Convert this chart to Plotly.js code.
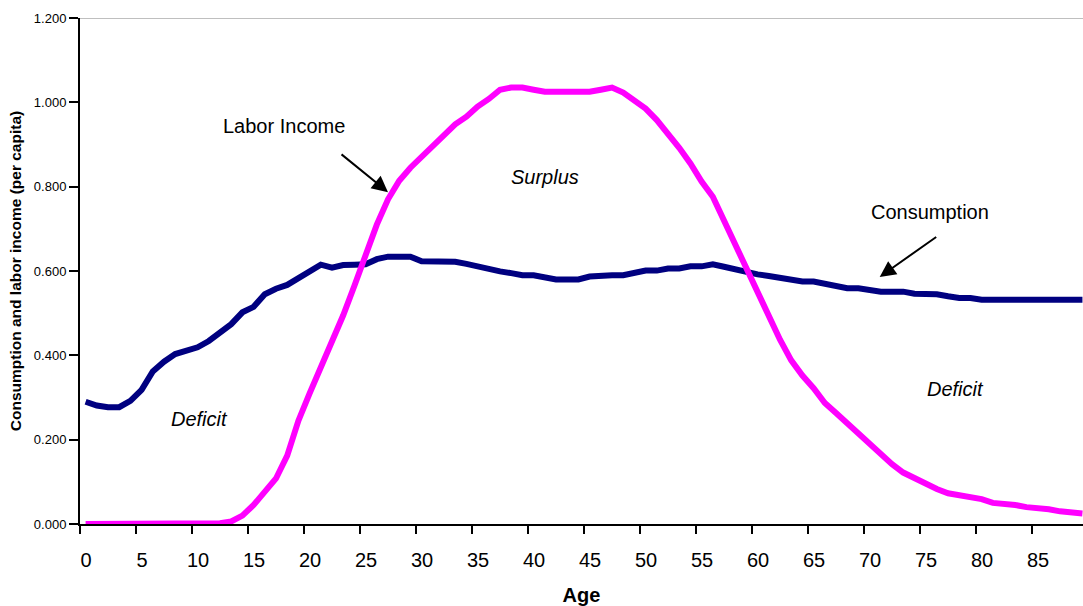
<!DOCTYPE html>
<html>
<head>
<meta charset="utf-8">
<script src="https://cdn.plot.ly/plotly-3.0.1.min.js"></script>
<style>html,body{margin:0;padding:0;background:#fff;}#chart{width:1083px;height:606px;}</style>
</head>
<body>
<div id="chart"></div>
<script>
const ages = Array.from({length: 90}, (_, i) => i);
const consumption = [
  0.290, 0.281, 0.277, 0.277, 0.292, 0.318, 0.362, 0.385, 0.403, 0.411,
  0.419, 0.434, 0.452, 0.474, 0.502, 0.515, 0.545, 0.558, 0.567, 0.583,
  0.600, 0.615, 0.608, 0.614, 0.615, 0.616, 0.628, 0.634, 0.634, 0.634,
  0.623, 0.623, 0.623, 0.622, 0.617, 0.611, 0.603, 0.599, 0.595, 0.590,
  0.590, 0.585, 0.580, 0.580, 0.580, 0.587, 0.590, 0.590, 0.590, 0.596,
  0.601, 0.601, 0.606, 0.606, 0.611, 0.611, 0.616, 0.610, 0.603, 0.597,
  0.592, 0.588, 0.584, 0.579, 0.575, 0.575, 0.570, 0.563, 0.559, 0.559,
  0.555, 0.551, 0.551, 0.551, 0.546, 0.545, 0.545, 0.540, 0.536, 0.536,
  0.532, 0.532, 0.532, 0.532, 0.532, 0.532, 0.532, 0.532, 0.532, 0.532
];
const laborIncome = [
  0.000, 0.000, 0.000, 0.000, 0.000, 0.000, 0.000, 0.000, 0.000, 0.000,
  0.000, 0.000, 0.002, 0.006, 0.020, 0.045, 0.076, 0.108, 0.162, 0.245,
  0.310, 0.370, 0.430, 0.495, 0.565, 0.640, 0.710, 0.770, 0.814, 0.845,
  0.872, 0.894, 0.925, 0.948, 0.966, 0.990, 1.008, 1.030, 1.035, 1.035,
  1.030, 1.025, 1.025, 1.025, 1.025, 1.025, 1.030, 1.035, 1.023, 1.005,
  0.985, 0.958, 0.927, 0.892, 0.855, 0.812, 0.776, 0.720, 0.660, 0.605,
  0.545, 0.490, 0.437, 0.388, 0.352, 0.322, 0.287, 0.263, 0.238, 0.215,
  0.190, 0.163, 0.142, 0.122, 0.108, 0.093, 0.083, 0.073, 0.068, 0.063,
  0.059, 0.050, 0.049, 0.045, 0.040, 0.039, 0.035, 0.030, 0.029, 0.025
];
const xTickLabels = ["0","5","10","15","20","25","30","35","40","45","50","55","60","65","70","75","80","85"];
const xTickVals = xTickLabels.map(s => Number(s) - 0.5);
const yTickVals = [0, 0.2, 0.4, 0.6, 0.8, 1.0, 1.2];

const FONT = "Liberation Sans, Arial, sans-serif";

const traces = [
  {x: ages, y: consumption, type: 'scatter', mode: 'lines', name: 'Consumption',
   line: {color: '#000080', width: 6}},
  {x: ages, y: laborIncome, type: 'scatter', mode: 'lines', name: 'Labor Income',
   line: {color: '#FF00FF', width: 6}}
];

const layout = {
  width: 1083, height: 606,
  margin: {l: 80, r: 0, t: 18, b: 82, pad: 0},
  paper_bgcolor: '#fff', plot_bgcolor: '#fff',
  showlegend: false,
  font: {family: FONT, color: '#000'},
  xaxis: {
    range: [-0.5, 89.05], showgrid: false, zeroline: false,
    showline: true, linecolor: '#000', linewidth: 2,
    ticks: 'outside', ticklen: 8, tickwidth: 2, tickcolor: '#000',
    tickmode: 'array', tickvals: xTickVals, ticktext: xTickLabels,
    ticklabelshift: 6, ticklabelstandoff: 9,
    tickfont: {size: 20, family: FONT, color: '#000'},
    title: {text: '<b>Age</b>', font: {size: 20, family: FONT, color: '#000'}, standoff: 19}
  },
  yaxis: {
    range: [0, 1.2], showgrid: false, zeroline: false,
    showline: true, linecolor: '#000', linewidth: 2,
    ticks: 'outside', ticklen: 9, tickwidth: 2, tickcolor: '#000',
    tickmode: 'array', tickvals: yTickVals, tickformat: '.3f',
    tickfont: {size: 13, family: FONT, color: '#000'},
    title: {text: '<b>Consumption and labor income (per capita)</b>', font: {size: 15.5, family: FONT, color: '#000'}, standoff: 8}
  },
  shapes: [
    {type: 'line', xref: 'paper', yref: 'y', x0: 0, x1: 1, y0: 1.2, y1: 1.2,
     line: {color: '#808080', width: 1}}
  ],
  annotations: [
    {x: 27.0, y: 0.787, xref: 'x', yref: 'y', text: '', showarrow: true,
     ax: -48, ay: -39, arrowhead: 2, arrowsize: 1.6, arrowwidth: 2, arrowcolor: '#000'},
    {x: 70.9, y: 0.586, xref: 'x', yref: 'y', text: '', showarrow: true,
     ax: 58, ay: -41, arrowhead: 2, arrowsize: 1.6, arrowwidth: 2, arrowcolor: '#000'},
    {x: 17.7, y: 0.944, xref: 'x', yref: 'y', text: 'Labor Income', showarrow: false,
     font: {size: 20, family: FONT, color: '#000'}},
    {x: 75.4, y: 0.740, xref: 'x', yref: 'y', text: 'Consumption', showarrow: false,
     font: {size: 20, family: FONT, color: '#000'}},
    {x: 41.0, y: 0.823, xref: 'x', yref: 'y', text: '<i>Surplus</i>', showarrow: false,
     font: {size: 20, family: FONT, color: '#000'}},
    {x: 10.2, y: 0.249, xref: 'x', yref: 'y', text: '<i>Deficit</i>', showarrow: false,
     font: {size: 20, family: FONT, color: '#000'}},
    {x: 77.7, y: 0.320, xref: 'x', yref: 'y', text: '<i>Deficit</i>', showarrow: false,
     font: {size: 20, family: FONT, color: '#000'}}
  ]
};

Plotly.newPlot('chart', traces, layout, {displayModeBar: false, staticPlot: true});
</script>
</body>
</html>
